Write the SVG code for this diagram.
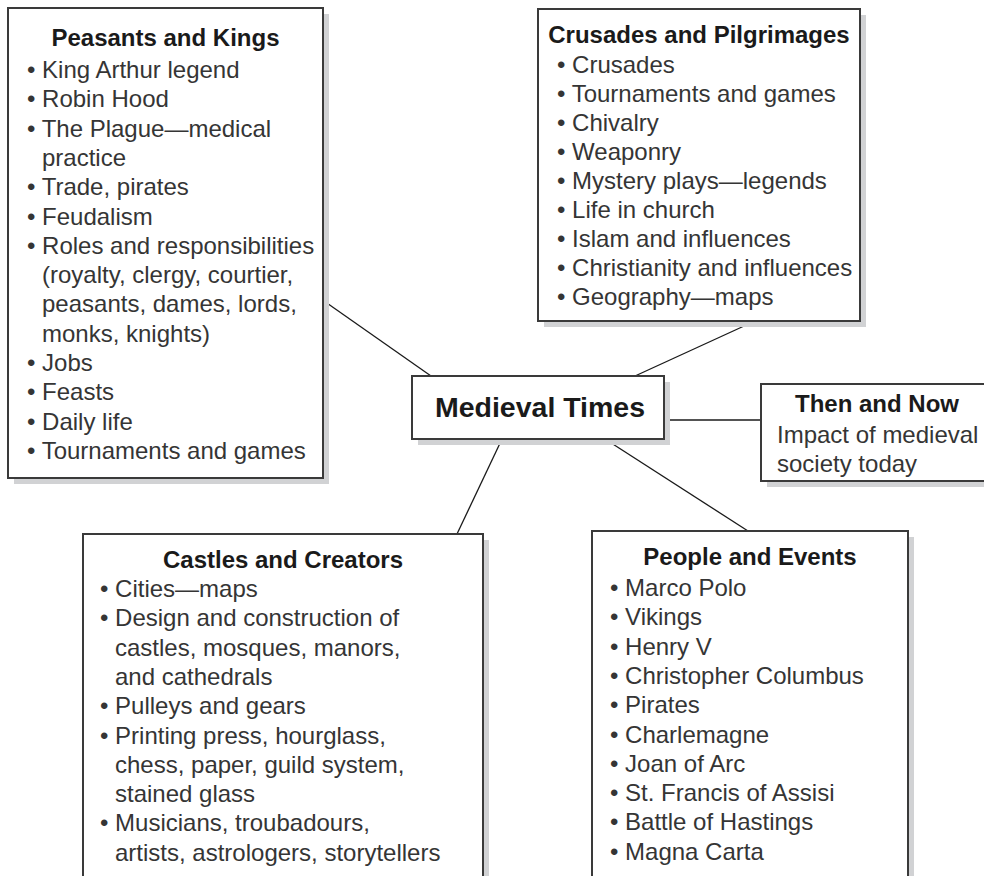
<svg xmlns="http://www.w3.org/2000/svg" width="984" height="876" viewBox="0 0 984 876">
<style>
.shadow{fill:#d1d2d4;stroke:none}
.box{fill:#fff;stroke:#3a3a3a;stroke-width:2}
.conn{stroke:#1a1a1a;stroke-width:1.3;fill:none}
.t{font-family:"Liberation Sans",Arial,Helvetica,sans-serif;font-size:24px;fill:#353535}
.h{font-family:"Liberation Sans",Arial,Helvetica,sans-serif;font-size:24px;font-weight:bold;fill:#1a1a1a;text-anchor:middle}
.c{font-family:"Liberation Sans",Arial,Helvetica,sans-serif;font-size:28.5px;font-weight:bold;fill:#1a1a1a;text-anchor:middle}
</style>
<rect width="984" height="876" fill="#fff"/>
<g id="connectors">
<line class="conn" x1="324" y1="301" x2="431" y2="376"/>
<line class="conn" x1="635" y1="376" x2="755" y2="321"/>
<line class="conn" x1="664" y1="420" x2="761" y2="420"/>
<line class="conn" x1="605" y1="439" x2="748" y2="531"/>
<line class="conn" x1="502" y1="439" x2="457" y2="534"/>
</g>
<g id="peasants">
<rect class="shadow" x="14" y="14" width="315" height="470"/>
<rect class="box" x="8" y="8" width="315" height="470"/>
<text class="h" x="165.5" y="46">Peasants and Kings</text>
<text class="t" x="27" y="78">• King Arthur legend</text>
<text class="t" x="27" y="107.3">• Robin Hood</text>
<text class="t" x="27" y="136.6">• The Plague—medical</text>
<text class="t" x="42" y="165.9">practice</text>
<text class="t" x="27" y="195.2">• Trade, pirates</text>
<text class="t" x="27" y="224.5">• Feudalism</text>
<text class="t" x="27" y="253.8">• Roles and responsibilities</text>
<text class="t" x="42" y="283.1">(royalty, clergy, courtier,</text>
<text class="t" x="42" y="312.4">peasants, dames, lords,</text>
<text class="t" x="42" y="341.7">monks, knights)</text>
<text class="t" x="27" y="371">• Jobs</text>
<text class="t" x="27" y="400.3">• Feasts</text>
<text class="t" x="27" y="429.6">• Daily life</text>
<text class="t" x="27" y="458.9">• Tournaments and games</text>
</g>
<g id="crusades">
<rect class="shadow" x="544" y="15" width="322" height="312"/>
<rect class="box" x="538" y="9" width="322" height="312"/>
<text class="h" x="699" y="42.5">Crusades and Pilgrimages</text>
<text class="t" x="557" y="73">• Crusades</text>
<text class="t" x="557" y="102">• Tournaments and games</text>
<text class="t" x="557" y="131">• Chivalry</text>
<text class="t" x="557" y="160">• Weaponry</text>
<text class="t" x="557" y="189">• Mystery plays—legends</text>
<text class="t" x="557" y="218">• Life in church</text>
<text class="t" x="557" y="247">• Islam and influences</text>
<text class="t" x="557" y="276">• Christianity and influences</text>
<text class="t" x="557" y="305">• Geography—maps</text>
</g>
<g id="center">
<rect class="shadow" x="418" y="382" width="252" height="63"/>
<rect class="box" x="412" y="376" width="252" height="63"/>
<text class="c" x="540" y="417">Medieval Times</text>
</g>
<g id="thennow">
<rect class="shadow" x="767" y="390" width="233" height="97"/>
<rect class="box" x="761" y="384" width="233" height="97"/>
<text class="h" x="877" y="412">Then and Now</text>
<text class="t" x="777" y="443">Impact of medieval</text>
<text class="t" x="777" y="472">society today</text>
</g>
<g id="castles">
<rect class="shadow" x="89" y="540" width="400" height="360"/>
<rect class="box" x="83" y="534" width="400" height="360"/>
<text class="h" x="283" y="568">Castles and Creators</text>
<text class="t" x="100" y="597">• Cities—maps</text>
<text class="t" x="100" y="626.3">• Design and construction of</text>
<text class="t" x="115" y="655.6">castles, mosques, manors,</text>
<text class="t" x="115" y="684.9">and cathedrals</text>
<text class="t" x="100" y="714.2">• Pulleys and gears</text>
<text class="t" x="100" y="743.5">• Printing press, hourglass,</text>
<text class="t" x="115" y="772.8">chess, paper, guild system,</text>
<text class="t" x="115" y="802.1">stained glass</text>
<text class="t" x="100" y="831.4">• Musicians, troubadours,</text>
<text class="t" x="115" y="860.7">artists, astrologers, storytellers</text>
</g>
<g id="people">
<rect class="shadow" x="598" y="537" width="316" height="360"/>
<rect class="box" x="592" y="531" width="316" height="360"/>
<text class="h" x="750" y="565">People and Events</text>
<text class="t" x="610" y="596">• Marco Polo</text>
<text class="t" x="610" y="625.3">• Vikings</text>
<text class="t" x="610" y="654.6">• Henry V</text>
<text class="t" x="610" y="683.9">• Christopher Columbus</text>
<text class="t" x="610" y="713.2">• Pirates</text>
<text class="t" x="610" y="742.5">• Charlemagne</text>
<text class="t" x="610" y="771.8">• Joan of Arc</text>
<text class="t" x="610" y="801.1">• St. Francis of Assisi</text>
<text class="t" x="610" y="830.4">• Battle of Hastings</text>
<text class="t" x="610" y="859.7">• Magna Carta</text>
</g>
</svg>
